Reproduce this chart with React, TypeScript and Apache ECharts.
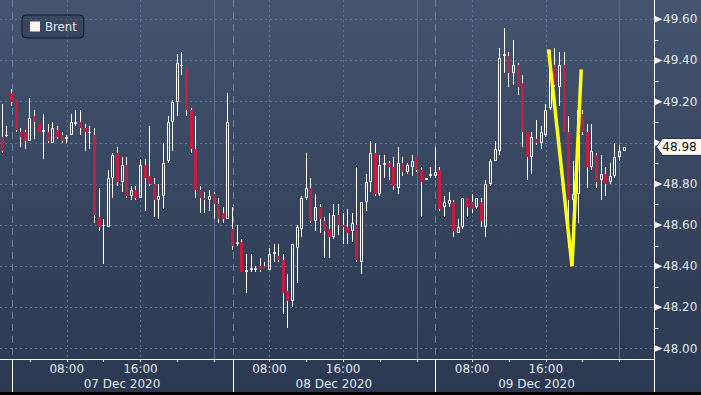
import React, { useEffect, useRef } from 'react';
import * as echarts from 'echarts';

// ---- Brent 30-minute candles ----
const opens = [
  49.03, 49.04, 49.24, 49.21, 49.05, 49.05, 49.01, 49.13, 49.09, 49.05,
  49.05, 49.00, 49.06, 49.04, 49.02, 49.04, 49.09, 49.10, 49.07, 49.05,
  49.04, 48.64, 48.60, 48.59, 48.83, 48.95, 48.81, 48.89, 48.74, 48.77,
  48.73, 48.89, 48.84, 48.80, 48.72, 48.74, 48.91, 49.10, 49.20, 49.38,
  49.37, 49.16, 48.97, 48.77, 48.73, 48.72, 48.75, 48.70, 48.66, 48.63,
  48.58, 48.51, 48.52, 48.37, 48.38, 48.38, 48.40, 48.40, 48.38, 48.46,
  48.45, 48.43, 48.28, 48.23, 48.49, 48.58, 48.73, 48.78, 48.62, 48.69,
  48.62, 48.58, 48.54, 48.65, 48.60, 48.59, 48.57, 48.60, 48.42, 48.71,
  48.81, 48.95, 48.75, 48.89, 48.90, 48.88, 48.78, 48.90, 48.86, 48.88,
  48.93, 48.87, 48.82, 48.84, 48.84, 48.87, 48.69, 48.70, 48.71, 48.56,
  48.59, 48.73, 48.71, 48.69, 48.71, 48.59, 48.80, 48.91, 48.96, 49.42,
  49.42, 49.34, 49.38, 49.29, 49.05, 48.93, 49.02, 49.00, 49.04, 49.17,
  49.38, 49.27, 49.38, 49.05, 48.72, 48.75, 49.14, 49.05, 48.88, 48.94,
  48.82, 48.85, 48.81, 48.84, 48.93, 48.96,
];
const closes = [
  48.96, 49.04, 49.20, 49.06, 49.03, 49.01, 49.12, 49.10, 49.05, 49.06,
  49.01, 49.07, 49.03, 49.01, 49.03, 49.10, 49.10, 49.07, 49.05, 49.05,
  48.65, 48.59, 48.60, 48.83, 48.94, 48.81, 48.89, 48.74, 48.77, 48.73,
  48.89, 48.83, 48.80, 48.72, 48.74, 48.90, 49.10, 49.20, 49.39, 49.38,
  49.16, 48.97, 48.77, 48.73, 48.72, 48.74, 48.70, 48.63, 48.63, 49.10,
  48.50, 48.52, 48.37, 48.38, 48.39, 48.39, 48.38, 48.39, 48.46, 48.47,
  48.43, 48.27, 48.23, 48.51, 48.59, 48.73, 48.78, 48.62, 48.69, 48.63,
  48.57, 48.54, 48.65, 48.60, 48.59, 48.56, 48.61, 48.43, 48.71, 48.81,
  48.95, 48.75, 48.89, 48.90, 48.88, 48.79, 48.90, 48.86, 48.89, 48.91,
  48.87, 48.81, 48.83, 48.85, 48.86, 48.68, 48.71, 48.72, 48.57, 48.59,
  48.73, 48.69, 48.68, 48.73, 48.62, 48.80, 48.91, 48.97, 49.41, 49.43,
  49.34, 49.38, 49.27, 49.05, 48.93, 49.03, 49.00, 49.05, 49.16, 49.38,
  49.28, 49.38, 49.05, 48.72, 48.75, 49.16, 49.05, 48.88, 48.96, 48.81,
  48.85, 48.80, 48.84, 48.93, 48.96, 48.98,
];
const highs = [
  49.19, 49.08, 49.26, 49.21, 49.07, 49.06, 49.22, 49.16, 49.09, 49.14,
  49.09, 49.10, 49.08, 49.05, 49.04, 49.14, 49.16, 49.16, 49.09, 49.08,
  49.07, 48.78, 48.63, 48.87, 48.95, 48.98, 48.93, 48.93, 48.79, 48.79,
  48.92, 48.92, 49.08, 48.83, 48.80, 49.00, 49.13, 49.21, 49.43, 49.44,
  49.37, 49.17, 49.13, 48.79, 48.76, 48.77, 48.76, 48.73, 48.69, 49.24,
  48.69, 48.60, 48.53, 48.46, 48.46, 48.40, 48.44, 48.42, 48.49, 48.51,
  48.51, 48.46, 48.36, 48.51, 48.60, 48.74, 48.95, 48.83, 48.75, 48.70,
  48.64, 48.66, 48.70, 48.70, 48.66, 48.68, 48.66, 48.88, 48.71, 48.85,
  49.01, 49.00, 48.94, 48.94, 48.91, 48.93, 48.98, 48.93, 48.90, 48.94,
  48.93, 48.88, 48.83, 48.88, 48.98, 48.88, 48.74, 48.76, 48.72, 48.63,
  48.73, 48.73, 48.75, 48.73, 48.73, 48.82, 48.92, 49.01, 49.46, 49.56,
  49.44, 49.50, 49.39, 49.33, 49.05, 49.05, 49.11, 49.08, 49.19, 49.45,
  49.46, 49.44, 49.44, 49.13, 48.91, 49.17, 49.16, 49.09, 49.09, 48.95,
  48.94, 48.88, 48.90, 49.00, 48.99, 48.98,
];
const lows = [
  48.95, 49.03, 49.18, 49.05, 48.98, 48.97, 49.01, 49.02, 49.05, 48.92,
  49.00, 49.00, 49.02, 49.00, 49.00, 49.04, 49.08, 49.04, 48.96, 48.97,
  48.61, 48.57, 48.41, 48.59, 48.73, 48.79, 48.76, 48.73, 48.72, 48.72,
  48.73, 48.67, 48.79, 48.64, 48.63, 48.68, 48.90, 48.96, 49.13, 49.33,
  49.13, 48.95, 48.73, 48.66, 48.66, 48.67, 48.63, 48.61, 48.61, 48.63,
  48.48, 48.50, 48.37, 48.27, 48.37, 48.37, 48.37, 48.39, 48.38, 48.42,
  48.42, 48.17, 48.10, 48.20, 48.32, 48.54, 48.72, 48.61, 48.57, 48.56,
  48.44, 48.44, 48.53, 48.55, 48.51, 48.51, 48.52, 48.42, 48.36, 48.67,
  48.76, 48.74, 48.74, 48.83, 48.82, 48.77, 48.75, 48.84, 48.85, 48.84,
  48.86, 48.64, 48.82, 48.83, 48.83, 48.67, 48.64, 48.69, 48.54, 48.56,
  48.58, 48.64, 48.66, 48.68, 48.59, 48.54, 48.79, 48.91, 48.94, 49.34,
  49.27, 49.28, 49.23, 48.98, 48.82, 48.85, 48.99, 48.97, 49.03, 49.16,
  49.27, 49.18, 49.05, 48.49, 48.61, 48.61, 49.04, 48.78, 48.87, 48.78,
  48.72, 48.74, 48.80, 48.83, 48.91, 48.96,
];

// ---- axes ----
const slotCount = 142; // 30-minute slots on the time axis
const tickIndex = [6, 14, 22, 30, 38, 46, 58, 66, 74, 82, 90, 102, 110, 118, 126, 134];
const timeLabelIndex = [14, 30, 58, 74, 102, 118];
const separatorIndex = [2, 50, 94];
const midnightIndex = [46, 90, 134];
const dateLabelIndex = [26, 72, 116];
const yTicks = [48.0, 48.2, 48.4, 48.6, 48.8, 49.0, 49.2, 49.4, 49.6];
const yMinorTicks = [48.1, 48.3, 48.5, 48.7, 48.9, 49.1, 49.3, 49.5];
const plotMin = 47.949;
const plotMax = 49.694;

// ---- hand-drawn yellow "W" annotation (slot position, price) ----
const wPatternX = [118.6, 123.7, 125.7];
const wPatternY = [49.454, 48.40, 49.357];

const RED = '#c81c3e';
const WHITE = '#ffffff';
const TEXT = '#e4e8ee';
const GRID_DOT = '#5e7496';
const SEP_DASH = '#6a81a3';
const MID_SOLID = '#587092';
const FONT = 'DejaVu Sans';

const MONTHS = ['Jan', 'Feb', 'Mar', 'Apr', 'May', 'Jun', 'Jul', 'Aug', 'Sep', 'Oct', 'Nov', 'Dec'];
function pad2(n: number) { return n < 10 ? '0' + n : String(n); }
function buildSlots(n: number): string[] {
  const out: string[] = [];
  let t = Date.UTC(2020, 11, 7, 1, 0);
  for (let i = 0; i < n; i++) {
    const d = new Date(t);
    out.push(`${pad2(d.getUTCDate())} ${MONTHS[d.getUTCMonth()]} ${d.getUTCFullYear()} ${pad2(d.getUTCHours())}:${pad2(d.getUTCMinutes())}`);
    t += 30 * 60000;
    const nd = new Date(t);
    if (i > 10 && nd.getUTCHours() === 2 && nd.getUTCMinutes() === 0) t += 2 * 3600000; // session break
  }
  return out;
}

function seg(x1: number, y1: number, x2: number, y2: number, stroke: string, dash?: number[]) {
  return { type: 'line', silent: true, shape: { x1, y1, x2, y2 }, style: { stroke, lineWidth: 1, lineDash: dash || null } };
}

export default function App() {
  const ref = useRef<HTMLDivElement>(null);
  useEffect(() => {
    const chart = echarts.init(ref.current!, undefined, { renderer: 'svg' });
    const slots = buildSlots(slotCount);
    const candles = opens.map((o, i) => [i, o, closes[i], lows[i], highs[i]]);
    const lastIndex = closes.length - 1;
    const lastClose = closes[lastIndex];

    const option: any = {
      animation: false,
      backgroundColor: 'transparent',
      textStyle: { fontFamily: FONT },
      legend: {
        left: 22,
        top: 15,
        data: [{ name: 'Brent', icon: 'rect', itemStyle: { color: '#fff3ee' } }],
        itemWidth: 10,
        itemHeight: 10,
        padding: [5, 7, 5, 8],
        backgroundColor: 'rgba(25,34,52,0.25)',
        borderColor: '#121927',
        borderWidth: 1,
        borderRadius: 4,
        selectedMode: false,
        textStyle: { color: TEXT, fontSize: 13, fontFamily: "'Liberation Sans Narrow', 'DejaVu Sans Condensed', sans-serif" },
      },
      grid: [
        { left: -1, right: 47, top: 0, bottom: 36 },
        { left: -1, right: 47, top: 19.3, bottom: 46.5 },
      ],
      xAxis: [
        {
          gridIndex: 0, type: 'category', data: slots, boundaryGap: true, position: 'bottom',
          axisLine: { show: true, lineStyle: { color: WHITE, width: 1 } },
          axisTick: { show: true, alignWithLabel: true, length: 3, interval: (i: number) => tickIndex.includes(i), lineStyle: { color: WHITE } },
          axisLabel: {
            interval: (i: number) => timeLabelIndex.includes(i),
            formatter: (v: string) => v.slice(12),
            color: TEXT, fontSize: 12, fontFamily: FONT, margin: 4,
          },
          splitLine: { show: false },
        },
        {
          gridIndex: 0, type: 'category', data: slots, boundaryGap: true, position: 'bottom',
          axisLine: { show: false }, axisTick: { show: false },
          axisLabel: {
            interval: (i: number) => dateLabelIndex.includes(i),
            formatter: (v: string) => v.slice(0, 11),
            color: TEXT, fontSize: 12, fontFamily: FONT, margin: 19,
          },
          splitLine: { show: false },
        },
        { gridIndex: 0, type: 'value', min: -0.5, max: slotCount - 0.5, show: false },
        { gridIndex: 1, type: 'value', min: 0, max: 1, show: false },
      ],
      yAxis: [
        { gridIndex: 0, type: 'value', position: 'right', min: plotMin, max: plotMax, show: false },
        {
          gridIndex: 1, type: 'value', position: 'right', min: 48.0, max: 49.6, interval: 0.2,
          axisLine: { show: false }, axisTick: { show: false },
          axisLabel: {
            margin: 9, color: TEXT, fontSize: 12, fontFamily: FONT,
            formatter: (v: number) => (Math.abs(v - lastClose) < 0.1 ? '' : v.toFixed(2)),
          },
          splitLine: { show: true, lineStyle: { color: GRID_DOT, width: 1, type: [2, 3] } },
        },
      ],
      series: [
        {
          // vertical grid lines and day separators
          type: 'custom', xAxisIndex: 0, yAxisIndex: 0, z: 1, silent: true, clip: false,
          data: [[0, 48.5]],
          encode: { x: 0, y: 1 },
          renderItem: (params: any, api: any) => {
            const cs = params.coordSys;
            const top = cs.y;
            const bottom = cs.y + cs.height;
            const xAt = (i: number) => Math.round(api.coord([i, 48.5])[0]) + 0.5;
            const kids: any[] = [];
            timeLabelIndex.forEach((i) => kids.push(seg(xAt(i), top, xAt(i), bottom, GRID_DOT, [2, 3])));
            midnightIndex.forEach((i) => kids.push(seg(xAt(i), top, xAt(i), bottom, MID_SOLID)));
            separatorIndex.forEach((i) => {
              kids.push(seg(xAt(i), top, xAt(i), bottom, SEP_DASH, [7, 5]));
              kids.push(seg(xAt(i), bottom, xAt(i), bottom + 33, WHITE));
            });
            return { type: 'group', children: kids };
          },
        },
        {
          name: 'Brent',
          type: 'custom', xAxisIndex: 0, yAxisIndex: 0, z: 3,
          itemStyle: { color: '#fff3ee' },
          data: candles,
          encode: { x: 0, y: [1, 2, 3, 4] },
          renderItem: (params: any, api: any) => {
            const idx = api.value(0);
            const o = api.value(1);
            const c = api.value(2);
            const l = api.value(3);
            const h = api.value(4);
            const p = api.coord([idx, o]);
            const yO = Math.round(p[1]);
            const yC = Math.round(api.coord([idx, c])[1]);
            const yL = Math.round(api.coord([idx, l])[1]);
            const yH = Math.round(api.coord([idx, h])[1]);
            const left = Math.round(p[0] - 1.5);
            const wx = left + 1.5;
            const top = Math.min(yO, yC);
            const bot = Math.max(yO, yC);
            const kids: any[] = [];
            if (c >= o) {
              if (yH < top) kids.push(seg(wx, yH, wx, top, WHITE));
              if (yL > bot) kids.push(seg(wx, bot, wx, yL, WHITE));
              kids.push({
                type: 'rect',
                shape: { x: left + 0.5, y: top + 0.5, width: 2, height: Math.max(bot - top - 1, 0) },
                style: { fill: 'none', stroke: WHITE, lineWidth: 1 },
              });
            } else {
              kids.push(seg(wx, yH, wx, yL, WHITE));
              kids.push({
                type: 'rect',
                shape: { x: left, y: top, width: 3, height: Math.max(bot - top, 1) },
                style: { fill: RED },
              });
            }
            return { type: 'group', children: kids };
          },
        },
        {
          type: 'line', xAxisIndex: 2, yAxisIndex: 0, z: 4, silent: true,
          data: wPatternX.map((x, i) => [x, wPatternY[i]]),
          symbol: 'none',
          lineStyle: { color: '#ffff12', width: 3.5, join: 'miter' },
        },
        {
          // right price axis: line, tick markers and last-price tag
          type: 'custom', xAxisIndex: 0, yAxisIndex: 0, z: 5, silent: true, clip: false,
          data: [[lastIndex, lastClose]],
          encode: { x: 0, y: 1 },
          renderItem: (params: any, api: any) => {
            const cs = params.coordSys;
            const ax = Math.round(cs.x + cs.width) + 0.5;
            const top = cs.y;
            const bottom = cs.y + cs.height;
            const kids: any[] = [];
            kids.push(seg(ax, top, ax, bottom + 33, WHITE));
            yMinorTicks.forEach((v) => {
              const y = Math.round(api.coord([0, v])[1]) + 0.5;
              kids.push(seg(ax, y, ax + 4, y, WHITE));
            });
            yTicks.forEach((v) => {
              const y = api.coord([0, v])[1];
              kids.push({ type: 'polygon', shape: { points: [[ax, y - 3.5], [ax + 8, y], [ax, y + 3.5]] }, style: { fill: '#eef1f5' } });
            });
            const ty = api.coord([api.value(0), api.value(1)])[1];
            kids.push({
              type: 'polygon',
              shape: { points: [[ax + 2, ty], [ax + 8, ty - 8.5], [ax + 48, ty - 8.5], [ax + 48, ty + 8.5], [ax + 8, ty + 8.5]] },
              style: { fill: '#fff8f2', stroke: '#243043', lineWidth: 1 },
            });
            kids.push({
              type: 'text', x: ax + 25, y: ty,
              style: { text: api.value(1).toFixed(2), fill: '#111111', font: `12px "${FONT}"`, align: 'center', verticalAlign: 'middle' },
            });
            return { type: 'group', children: kids };
          },
        },
      ],
    };
    chart.setOption(option);
    return () => chart.dispose();
  }, []);

  return (
    <div style={{ position: 'fixed', left: 0, top: 0, width: 701, height: 395, overflow: 'hidden', background: 'linear-gradient(180deg, #45546f 0%, #37455f 50%, #2a3852 100%)' }}>
      <div ref={ref} style={{ position: 'absolute', left: 0, top: 0, width: 701, height: 395 }} />
      <div style={{ position: 'absolute', left: 0, top: 392, width: 701, height: 3, background: '#000' }} />
    </div>
  );
}
